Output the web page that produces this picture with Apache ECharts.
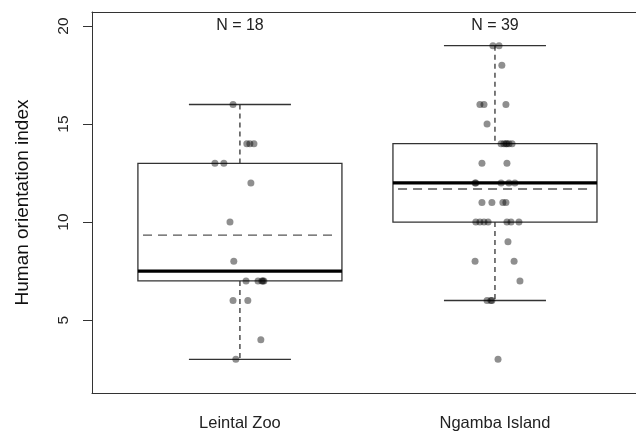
<!DOCTYPE html>
<html>
<head>
<meta charset="utf-8">
<script src="https://cdn.jsdelivr.net/npm/echarts@6/dist/echarts.min.js"></script>
<style>html,body{margin:0;padding:0;background:#fff}#c{width:636px;height:432px}</style>
</head>
<body>
<div id="c"></div>
<script>
// ---- data ----
var categories = ['Leintal Zoo', 'Ngamba Island'];
var leintalValues = [16,14,14,14,13,13,12,10,8,7,7,7,7,7,6,6,4,3];
var leintalJitter = [-0.027,0.027,0.039,0.055,-0.098,-0.063,0.043,-0.039,-0.024,0.024,0.071,0.086,0.090,0.094,-0.027,0.031,0.082,-0.016];
var ngambaValues = [19,19,18,16,16,16,15,14,14,14,14,14,14,13,13,12,12,12,12,12,11,11,11,11,10,10,10,10,10,10,10,9,8,8,7,6,6,6,3];
var ngambaJitter = [-0.008,0.016,0.027,-0.059,-0.043,0.043,-0.031,0.024,0.035,0.043,0.047,0.055,0.067,-0.051,0.047,-0.078,-0.075,0.024,0.055,0.078,-0.051,-0.012,0.031,0.043,-0.075,-0.059,-0.043,-0.027,0.047,0.063,0.094,0.051,-0.078,0.075,0.098,-0.031,-0.016,-0.012,0.012];
var yTicks = [5, 10, 15, 20];

var groups = [leintalValues, ngambaValues];
var jitters = [leintalJitter, ngambaJitter];

// Tukey boxplot stats (like R boxplot.stats)
function stats(vals) {
  var s = vals.slice().sort(function(a,b){return a-b;});
  var n = s.length;
  function q(pos){
    var lo = Math.floor(pos), hi = Math.ceil(pos);
    return (s[lo-1] + s[hi-1]) / 2;
  }
  var n4 = Math.floor((n + 3) / 2) / 2;
  var h1 = q(n4), med = q((n + 1) / 2), h2 = q(n + 1 - n4);
  var iqr = h2 - h1;
  var lf = h1 - 1.5 * iqr, uf = h2 + 1.5 * iqr;
  var lw = Infinity, uw = -Infinity, sum = 0;
  s.forEach(function(v){ if (v >= lf && v < lw) lw = v; if (v <= uf && v > uw) uw = v; sum += v; });
  return [lw, h1, med, h2, uw, sum / n, n];
}

var boxData = groups.map(function(g, i){ return [i + 1].concat(stats(g)); });
var pointData = [];
groups.forEach(function(g, i){
  g.forEach(function(v, k){ pointData.push([i + 1 + jitters[i][k], v]); });
});

var chart = echarts.init(document.getElementById('c'), null, {renderer: 'canvas'});
var font = 'Liberation Sans, Arial, sans-serif';
var frame = {show: true, lineStyle: {color: '#333', width: 1}};

chart.setOption({
  animation: false,
  backgroundColor: '#fff',
  grid: {left: 92, top: 12, right: 0, height: 381, show: false},
  xAxis: [{
    type: 'value', min: 0.42, max: 2.553, position: 'bottom',
    axisLine: frame, axisTick: {show: false}, splitLine: {show: false},
    axisLabel: {
      customValues: [1, 2], margin: 22,
      fontFamily: font, fontSize: 16.5, color: '#222',
      formatter: function(v){ return categories[Math.round(v) - 1] || ''; }
    }
  }, {
    type: 'value', min: 0.42, max: 2.553, position: 'top',
    axisLine: frame, axisTick: {show: false}, axisLabel: {show: false}, splitLine: {show: false}
  }],
  yAxis: {
    type: 'value', min: 1.28, max: 20.72,
    axisLine: frame, splitLine: {show: false},
    axisTick: {show: true, customValues: yTicks, length: 9, lineStyle: {color: '#333'}},
    axisLabel: {customValues: yTicks, rotate: 90, margin: 20, fontFamily: font, fontSize: 15.5, color: '#222'},
    name: 'Human orientation index', nameLocation: 'middle', nameGap: 60,
    nameTextStyle: {fontFamily: font, fontSize: 19, color: '#111'}
  },
  series: [
    {
      type: 'custom',
      data: boxData,
      z: 2,
      renderItem: function(params, api) {
        var x = api.value(0);
        var lw = api.value(1), q1 = api.value(2), md = api.value(3), q3 = api.value(4), uw = api.value(5), mn = api.value(6), n = api.value(7);
        var c = function(xx, yy){ return api.coord([xx, yy]); };
        var pLw = c(x, lw), pQ1 = c(x, q1), pMd = c(x, md), pQ3 = c(x, q3), pUw = c(x, uw), pMn = c(x, mn);
        var half = api.size([0.4, 0])[0];
        var cap = api.size([0.2, 0])[0];
        var mHalf = api.size([0.38, 0])[0];
        var cx = pMd[0];
        var ln = {stroke: '#333', lineWidth: 1.3};
        var top = c(x, 20.05);
        return {
          type: 'group',
          children: [
            {type: 'line', shape: {x1: cx, y1: pUw[1], x2: cx, y2: pQ3[1]}, style: {stroke: '#333', lineWidth: 1.3, lineDash: [5, 4]}},
            {type: 'line', shape: {x1: cx, y1: pQ1[1], x2: cx, y2: pLw[1]}, style: {stroke: '#333', lineWidth: 1.3, lineDash: [5, 4]}},
            {type: 'line', shape: {x1: cx - cap, y1: pUw[1], x2: cx + cap, y2: pUw[1]}, style: ln},
            {type: 'line', shape: {x1: cx - cap, y1: pLw[1], x2: cx + cap, y2: pLw[1]}, style: ln},
            {type: 'rect', shape: {x: cx - half, y: pQ3[1], width: 2 * half, height: pQ1[1] - pQ3[1]}, style: {fill: 'none', stroke: '#333', lineWidth: 1.3}},
            {type: 'line', shape: {x1: cx - half, y1: pMd[1], x2: cx + half, y2: pMd[1]}, style: {stroke: '#000', lineWidth: 3.2}},
            {type: 'line', shape: {x1: cx - mHalf, y1: pMn[1], x2: cx + mHalf, y2: pMn[1]}, style: {stroke: '#555', lineWidth: 1.4, lineDash: [9, 6]}},
            {type: 'text', x: cx, y: top[1], style: {text: 'N = ' + n, fontFamily: font, fontSize: 16, fill: '#222', align: 'center', verticalAlign: 'middle'}}
          ]
        };
      }
    },
    {
      type: 'scatter',
      data: pointData,
      z: 5,
      symbol: 'circle',
      symbolSize: 7,
      itemStyle: {color: 'rgba(0,0,0,0.55)', borderWidth: 0}
    }
  ]
});
</script>
</body>
</html>
